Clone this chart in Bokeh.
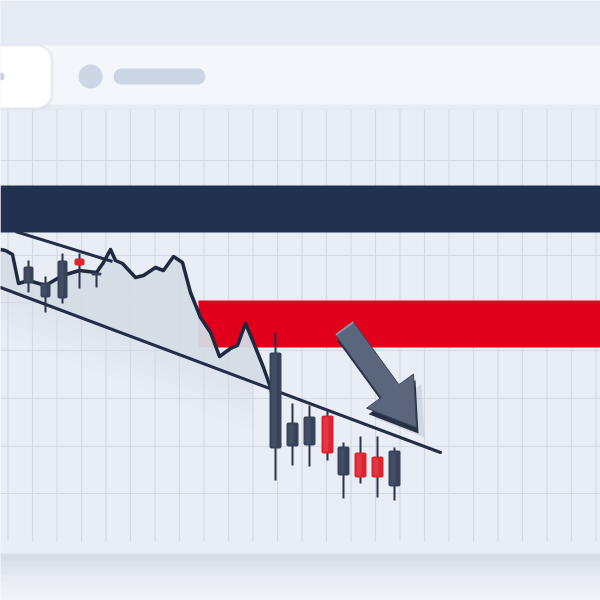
import numpy as np
from bokeh.plotting import figure
from bokeh.models import Range1d
from bokeh.embed import file_html
from bokeh.resources import INLINE

# ---- data (chart units: x = time position, y = level, measured downward) ----
price_x = [0, 5, 12, 18, 28, 45, 62, 79, 96, 103, 110, 115, 122, 135, 143, 155, 163, 173, 182,
           190, 200, 210, 219, 230, 237, 245, 253, 263, 270, 277, 279]
price_y = [249, 250, 254, 283, 280, 285, 275, 270, 272, 262, 249, 260, 263, 277, 275, 267, 270, 256, 262,
           292, 317, 332, 356, 348, 345, 323, 342, 367, 387, 420, 445]

candle_x = [28, 45, 62, 79, 96, 275, 292, 309, 327, 343, 360, 377, 394]
candle_top = [266, 282, 260, 258, 272, 352, 422, 416, 415, 446, 452, 456, 450]
candle_bot = [283, 297, 298, 265, 275, 448, 446, 445, 453, 475, 477, 477, 486]
candle_high = [260, 276, 253, 253, 272, 332, 403, 405, 411, 442, 436, 436, 447]
candle_low = [292, 312, 303, 288, 287, 480, 465, 466, 460, 498, 483, 497, 500]
candle_kind = ["dark", "dark", "dark", "red", "dark", "dark", "dark", "dark", "red", "dark", "red", "red", "dark"]
candle_group = [0, 0, 0, 0, 0, 1, 1, 1, 1, 1, 1, 1, 1]

upper_trend_x = [15, 112]
upper_trend_y = [231, 261]
lower_trend_x = [0, 440]
lower_trend_y = [287, 452]

navy_band = (185, 232)
red_band = (198, 300, 347)  # left, top, bottom

grid_x = [7.5 + 24.5 * k for k in range(25)]
grid_y = [160, 207, 255, 302, 350, 398, 446, 493]

arrow_tail = (344, 328)
arrow_tip = (416, 427)

# ---- figure ----
W, H = 600, 600
p = figure(width=W, height=H, x_range=Range1d(0, 600), y_range=Range1d(600, 0),
           output_backend="svg", toolbar_location=None, min_border=0)
p.axis.visible = False
p.grid.visible = False
p.outline_line_color = None
p.background_fill_color = "#eaeff6"
p.border_fill_color = "#eaeff6"

# backgrounds
p.quad(left=0, right=600, top=0, bottom=45, fill_color="#e6ebf3", line_color=None)
p.quad(left=0, right=600, top=45, bottom=108, fill_color="#f3f6fb", line_color=None)
p.quad(left=0, right=600, top=104, bottom=110, fill_color="#dfe5ee", line_color=None, fill_alpha=0.6)
p.quad(left=0, right=600, top=110, bottom=553, fill_color="#e9eef6", line_color=None)
bot_cols = ["#d7dee8", "#dde3ec", "#e2e7ef", "#e7ebf2", "#ebeef4", "#eef1f6", "#f0f2f7"]
for i, c in enumerate(bot_cols):
    p.quad(left=0, right=600, top=553 + i * 7, bottom=553 + (i + 1) * 7 + 1, fill_color=c, line_color=None)

# header elements
p.quad(left=-20, right=53, top=44, bottom=110, fill_color="#dde3ec", line_color=None, fill_alpha=0.5,
       border_radius=16)
p.quad(left=-20, right=50, top=46, bottom=107, fill_color="#ffffff", line_color=None, border_radius=14)
p.scatter([0], [76], size=8, fill_color="#c9d2e0", line_color=None)
p.scatter([90], [76], size=24, fill_color="#cdd6e4", line_color=None)
p.line([121, 197], [76, 76], line_width=16, line_cap="round", line_color="#ccd5e4")

# grid
p.segment(x0=grid_x, y0=[110] * len(grid_x), x1=grid_x, y1=[541] * len(grid_x),
          line_color="#d3dae5", line_width=1.2)
p.segment(x0=[0] * len(grid_y), y0=grid_y, x1=[600] * len(grid_y), y1=grid_y,
          line_color="#d3dae5", line_width=1.2)

# bands
p.quad(left=0, right=600, top=navy_band[0], bottom=navy_band[1], fill_color="#22314f", line_color=None)
p.quad(left=red_band[0], right=600, top=red_band[1], bottom=red_band[2], fill_color="#e0001b", line_color=None)

# area under the price line down to the lower trendline
px = np.array(price_x, dtype=float)
py = np.array(price_y, dtype=float)
trend_at = np.interp(px, lower_trend_x, lower_trend_y)
p.varea(x=px, y1=py, y2=np.maximum(trend_at, py), fill_color="#d4dbe5", fill_alpha=0.95)
for k in range(6):
    p.varea(x=px[px < 262], y1=(trend_at[px < 262] + k * 8), y2=(trend_at[px < 262] + (k + 1) * 8),
            fill_color="#d4dbe5", fill_alpha=0.5 * (1 - k / 6))

# trendlines
p.line(upper_trend_x, upper_trend_y, line_color="#242f47", line_width=3)
p.line(lower_trend_x, lower_trend_y, line_color="#242f47", line_width=3, line_cap="round")

# price line
p.line(price_x, price_y, line_color="#1f2a40", line_width=3.5, line_join="round")

# candles
cols = {"dark": "#384359", "red": "#dc2330"}
lite = {"dark": "#4b566d", "red": "#e8444e"}
for x, t, b, hi, lo, kd, g in zip(candle_x, candle_top, candle_bot, candle_high, candle_low,
                                  candle_kind, candle_group):
    w = 10 if g == 0 else 12
    p.segment(x0=[x], y0=[hi], x1=[x], y1=[lo], line_color="#2a3347", line_width=2)
    p.quad(left=x - w / 2, right=x + w / 2, top=t, bottom=max(b, t + 3), fill_color=cols[kd],
           line_color=None, border_radius=2)
    if b - t > 8:
        p.quad(left=x - w / 2 + 2, right=x + 1, top=t + 2, bottom=b - 2, fill_color=lite[kd],
               line_color=None, fill_alpha=0.6)

# arrow
T = np.array(arrow_tail, dtype=float)
P = np.array(arrow_tip, dtype=float)
u = (P - T) / np.linalg.norm(P - T)
n = np.array([u[1], -u[0]])
B = P - 45 * u
pts = [T + 11 * n, B + 11 * n, B + 29 * n, P, B - 29 * n, B - 11 * n, T - 11 * n]
ax = [q[0] for q in pts]
ay = [q[1] for q in pts]
p.patch([a + 8 for a in ax], [a + 10 for a in ay], fill_color="#6b7690", fill_alpha=0.18, line_color=None)
p.patch([a + 2 for a in ax], [a + 6 for a in ay], fill_color="#283043", line_color=None)
p.patch(ax, ay, fill_color="#5b667d", line_color="#3d475b", line_width=1)
p.line([pts[0][0], pts[6][0]], [pts[0][1], pts[6][1]], line_color="#8a94a8", line_width=2)

open("out.html", "w").write(file_html(p, INLINE))
